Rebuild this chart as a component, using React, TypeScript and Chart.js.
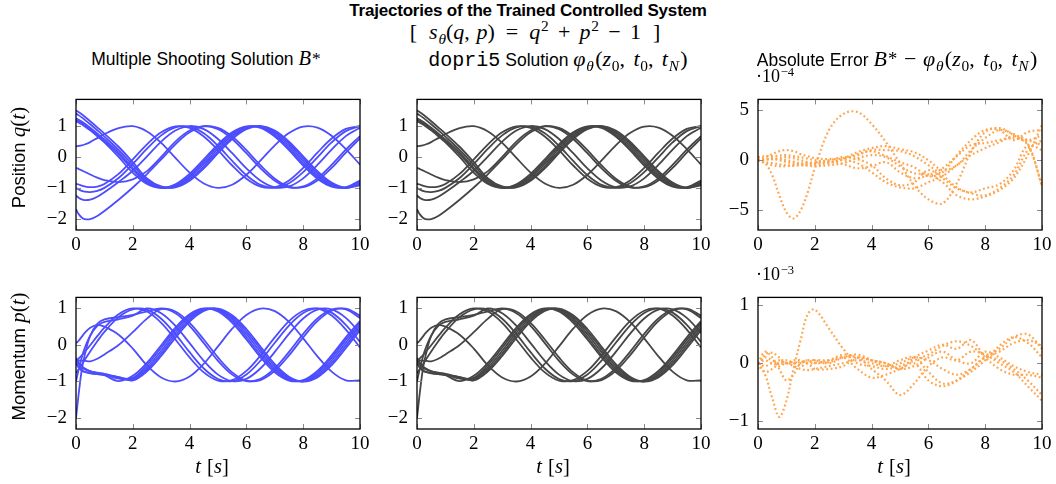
import React, { useEffect, useRef } from "react";
import { Chart, registerables } from "chart.js";

Chart.register(...registerables);

// ---------------------------------------------------------------------------
// Trajectories: time grid [s] shared by every trajectory
// ---------------------------------------------------------------------------
const TIME = [0, 0.05, 0.1, 0.2, 0.3, 0.5, 0.75, 1, 1.5, 2, 2.5, 3, 3.5, 4, 4.5, 5, 5.5, 6, 6.5, 7, 7.5, 8, 8.5, 9, 9.5, 10];

// Position q(t)
const Q_B1 = [1.50, 1.474, 1.444, 1.378, 1.306, 1.154, 0.957, 0.755, 0.330, -0.17, -0.691, -0.952, -0.982, -0.770, -0.370, 0.121, 0.582, 0.900, 0.999, 0.853, 0.498, 0.021, -0.461, -0.830, -0.996, -0.917];
const Q_B2 = [1.40, 1.374, 1.344, 1.279, 1.208, 1.058, 0.862, 0.659, 0.229, -0.26, -0.739, -0.972, -0.966, -0.723, -0.304, 0.190, 0.637, 0.929, 0.993, 0.814, 0.436, -0.049, -0.522, -0.867, -1.000, -0.887];
const Q_B3 = [1.25, 1.228, 1.203, 1.146, 1.083, 0.945, 0.760, 0.566, 0.149, -0.36, -0.791, -0.988, -0.942, -0.666, -0.227, 0.267, 0.697, 0.955, 0.980, 0.765, 0.362, -0.129, -0.589, -0.904, -0.998, -0.848];
const Q_B4 = [1.20, 1.178, 1.153, 1.096, 1.033, 0.895, 0.709, 0.513, 0.083, -0.41, -0.837, -0.997, -0.912, -0.605, -0.149, 0.343, 0.752, 0.976, 0.961, 0.711, 0.286, -0.208, -0.651, -0.935, -0.991, -0.803];
const Q_B5 = [1.15, 1.131, 1.108, 1.055, 0.994, 0.858, 0.670, 0.468, 0.00, -0.51, -0.873, -1.000, -0.882, -0.547, -0.079, 0.409, 0.796, 0.989, 0.939, 0.660, 0.219, -0.276, -0.703, -0.958, -0.978, -0.759];
const Q_A = [0.35, 0.353, 0.358, 0.375, 0.402, 0.481, 0.609, 0.740, 0.935, 0.995, 0.825, 0.454, -0.029, -0.505, -0.857, -0.999, -0.897, -0.575, -0.112, 0.377, 0.776, 0.983, 0.950, 0.685, 0.251, -0.244];
const Q_C1 = [-1.69, -1.781, -1.855, -1.955, -2.005, -2.010, -1.906, -1.746, -1.381, -0.986, -0.551, -0.079, 0.409, 0.796, 0.989, 0.939, 0.660, 0.219, -0.276, -0.703, -0.958, -0.978, -0.759, -0.354, 0.138, 0.595];
const Q_C2 = [-1.24, -1.286, -1.322, -1.372, -1.395, -1.380, -1.284, -1.140, -0.807, -0.445, 0.021, 0.498, 0.853, 0.999, 0.900, 0.582, 0.121, -0.370, -0.770, -0.982, -0.952, -0.691, -0.259, 0.235, 0.673, 0.945];
const Q_C3 = [-1.00, -1.026, -1.052, -1.094, -1.123, -1.136, -1.096, -0.999, -0.679, -0.227, 0.267, 0.697, 0.955, 0.980, 0.765, 0.362, -0.129, -0.589, -0.904, -0.998, -0.848, -0.490, -0.012, 0.469, 0.835, 0.997];
const Q_C4 = [-0.87, -0.88, -0.89, -0.925, -0.95, -0.975, -0.955, -0.875, -0.547, -0.079, 0.409, 0.796, 0.989, 0.939, 0.660, 0.219, -0.276, -0.703, -0.958, -0.978, -0.759, -0.354, 0.138, 0.595, 0.908, 0.998];
const Q_C5 = [-0.35, -0.370, -0.391, -0.434, -0.477, -0.565, -0.668, -0.748, -0.813, -0.726, -0.458, 0.0, 0.498, 0.853, 0.999, 0.900, 0.582, 0.121, -0.370, -0.770, -0.982, -0.952, -0.691, -0.259, 0.235, 0.673];

// Momentum p(t)
const P_B1 = [-0.50, -0.56, -0.62, -0.70, -0.74, -0.78, -0.80, -0.82, -0.88, -0.97, -0.723, -0.303, 0.190, 0.638, 0.929, 0.993, 0.813, 0.435, -0.050, -0.523, -0.868, -1.000, -0.887, -0.557, -0.091, 0.398];
const P_B2 = [-0.50, -0.56, -0.62, -0.69, -0.73, -0.77, -0.80, -0.82, -0.90, -0.96, -0.672, -0.236, 0.258, 0.690, 0.953, 0.982, 0.771, 0.370, -0.120, -0.581, -0.900, -0.999, -0.853, -0.498, -0.021, 0.461];
const P_B3 = [-0.40, -0.47, -0.53, -0.61, -0.66, -0.72, -0.76, -0.79, -0.88, -0.93, -0.612, -0.158, 0.335, 0.746, 0.974, 0.964, 0.717, 0.295, -0.199, -0.645, -0.932, -0.992, -0.808, -0.427, 0.058, 0.530];
const P_B4 = [-0.40, -0.47, -0.53, -0.61, -0.66, -0.72, -0.77, -0.80, -0.92, -0.90, -0.546, -0.078, 0.410, 0.797, 0.989, 0.939, 0.659, 0.218, -0.277, -0.704, -0.958, -0.978, -0.759, -0.353, 0.138, 0.596];
const P_B5 = [-0.35, -0.42, -0.49, -0.58, -0.64, -0.72, -0.78, -0.83, -0.99, -0.846, -0.487, -0.008, 0.472, 0.837, 0.997, 0.913, 0.605, 0.149, -0.343, -0.751, -0.976, -0.961, -0.711, -0.287, 0.207, 0.651];
const P_A = [0.05, 0.08, 0.12, 0.22, 0.32, 0.47, 0.55, 0.50, 0.28, -0.100, -0.564, -0.891, -1.000, -0.863, -0.515, -0.041, 0.443, 0.818, 0.994, 0.926, 0.631, 0.181, -0.312, -0.729, -0.968, -0.970];
const P_C1 = [-2.0, -1.65, -1.3, -0.7, -0.3, 0.25, 0.58, 0.70, 0.76, 0.82, 0.92, 0.997, 0.913, 0.605, 0.149, -0.343, -0.751, -0.976, -0.961, -0.711, -0.287, 0.207, 0.651, 0.935, 0.990, 0.803];
const P_C2 = [-1.0, -0.82, -0.65, -0.35, -0.10, 0.25, 0.52, 0.63, 0.70, 0.80, 1.000, 0.867, 0.523, 0.050, -0.435, -0.813, -0.993, -0.929, -0.638, -0.190, 0.304, 0.724, 0.966, 0.972, 0.740, 0.327];
const P_C3 = [-0.77, -0.715, -0.657, -0.539, -0.42, -0.18, 0.10, 0.355, 0.76, 0.974, 0.964, 0.717, 0.295, -0.199, -0.645, -0.932, -0.992, -0.808, -0.427, 0.058, 0.530, 0.872, 1.000, 0.883, 0.550, 0.083];
const P_C4 = [-0.45, -0.41, -0.37, -0.29, -0.20, -0.008, 0.239, 0.472, 0.837, 0.997, 0.913, 0.605, 0.149, -0.343, -0.751, -0.976, -0.961, -0.711, -0.287, 0.207, 0.651, 0.935, 0.990, 0.803, 0.420, -0.067];
const P_C5 = [-0.40, -0.41, -0.42, -0.43, -0.43, -0.45, -0.38, -0.26, 0.0, 0.35, 0.72, 0.98, 0.867, 0.523, 0.050, -0.435, -0.813, -0.993, -0.929, -0.638, -0.190, 0.304, 0.724, 0.966, 0.972, 0.740];

const Q_SERIES = [Q_B1, Q_B2, Q_B3, Q_B4, Q_B5, Q_A, Q_C1, Q_C2, Q_C3, Q_C4, Q_C5];
const P_SERIES = [P_B1, P_B2, P_B3, P_B4, P_B5, P_A, P_C1, P_C2, P_C3, P_C4, P_C5];

// ---------------------------------------------------------------------------
// Absolute error B* - phi: time grid [s]
// ---------------------------------------------------------------------------
const ERR_TIME = [0, 0.25, 0.5, 0.75, 1, 1.25, 1.5, 1.75, 2, 2.5, 3, 3.5, 4, 4.5, 5, 5.5, 6, 6.5, 7, 7.5, 8, 8.5, 9, 9.5, 10];

// Position error, in units of 1e-4
const EQ_1 = [0, -0.3, -1.5, -3.5, -5.2, -5.8, -5.0, -3.2, -0.8, 3.0, 4.6, 4.8, 3.6, 1.8, -0.3, -2.5, -3.9, -4.3, -2.3, 0.8, 2.8, 3.2, 2.5, 1.5, -2.5];
const EQ_2 = [0, 0.3, 0.6, 0.9, 1.0, 0.9, 0.6, 0.4, 0.2, 0.1, 0.2, 0.8, 1.2, 1.4, 1.1, 0.8, 0.0, -1.0, -0.5, 1.0, 2.2, 3.0, 2.6, 2.0, 2.5];
const EQ_3 = [0, -0.3, -0.5, -0.6, -0.6, -0.55, -0.5, -0.45, -0.4, -0.2, 0.0, -0.3, -1.2, -2.2, -2.7, -2.8, -2.2, -1.6, -0.5, 0.5, 1.2, 1.8, 2.4, 2.0, 1.5];
const EQ_4 = [0.3, 0.4, 0.4, 0.45, 0.5, 0.4, 0.3, 0.15, 0.0, -0.2, 0.1, 0.5, 1.0, 1.0, 0.9, 0.4, -0.5, -1.5, -2.7, -3.3, -3.5, -2.8, -1.5, 1.0, 2.0];
const EQ_5 = [0, -0.2, -0.3, -0.4, -0.5, -0.5, -0.5, -0.55, -0.6, -0.5, -0.3, 0.2, 0.5, 0.3, -0.6, -1.3, -1.4, -2.2, -3.5, -3.9, -3.6, -3.0, -1.8, 0.5, 3.5];
const EQ_6 = [0, 0.1, 0.1, 0.0, -0.2, -0.3, -0.4, -0.35, -0.3, -0.1, -0.4, -0.8, -0.6, -0.2, -1.2, -1.8, -1.5, -0.8, 0.4, 1.5, 1.7, 2.0, 2.2, 1.6, -2.6];
const EQ_7 = [0, 0.1, 0.2, 0.1, 0.0, -0.15, -0.3, -0.25, -0.2, 0.0, 0.3, 0.1, -0.5, -1.8, -2.5, -2.2, -1.0, -1.8, -2.8, -3.2, -2.8, -2.4, -1.0, 1.5, 1.0];
const EQ_8 = [0, 0.05, 0.1, 0.2, 0.3, 0.2, 0.0, -0.2, -0.4, -0.3, 0.1, 0.6, 0.9, 0.4, -0.2, -0.7, -1.6, -1.2, 0.5, 2.0, 3.0, 3.0, 2.0, 2.8, 3.0];

// Momentum error, in units of 1e-3
const EP_1 = [0, -0.2, -0.6, -0.93, -0.65, -0.1, 0.4, 0.85, 0.93, 0.6, 0.25, 0.0, -0.05, -0.1, -0.05, 0.05, 0.15, 0.3, 0.38, 0.3, 0.15, 0.25, 0.45, 0.5, 0.25];
const EP_2 = [0, 0.2, 0.1, -0.1, -0.3, -0.2, 0.0, 0.05, 0.0, 0.02, 0.1, 0.1, -0.1, -0.3, -0.55, -0.35, -0.05, 0.1, 0.05, 0.2, 0.15, 0.0, -0.15, -0.4, -0.65];
const EP_3 = [-0.1, 0.15, 0.18, 0.1, 0.0, 0.0, 0.02, 0.0, -0.1, -0.1, -0.05, 0.1, 0.05, 0.0, -0.1, 0.1, 0.22, 0.32, 0.25, 0.4, 0.1, -0.1, -0.2, -0.2, -0.25];
const EP_4 = [0, -0.15, -0.1, 0.0, 0.05, 0.0, -0.05, 0.0, 0.05, 0.05, 0.1, -0.1, -0.25, -0.2, -0.1, 0.0, -0.3, -0.4, -0.3, -0.1, 0.1, 0.2, 0.35, 0.4, 0.3];
const EP_5 = [0, 0.05, 0.0, 0.05, 0.0, 0.02, 0.0, 0.05, 0.05, 0.0, 0.1, 0.15, 0.05, -0.05, 0.0, 0.1, 0.05, -0.1, -0.2, -0.1, 0.1, 0.05, -0.1, -0.3, -0.55];
const EP_6 = [0, -0.05, 0.0, -0.05, 0.0, -0.05, -0.1, -0.12, -0.1, -0.05, 0.0, 0.05, 0.0, -0.05, 0.05, 0.1, -0.15, -0.35, -0.3, -0.15, 0.05, 0.3, 0.45, 0.35, 0.1];
const EP_7 = [0, 0.1, 0.05, 0.0, 0.0, 0.05, 0.05, 0.0, 0.0, 0.05, 0.15, 0.1, 0.05, 0.0, -0.1, -0.05, 0.1, 0.2, 0.05, 0.0, 0.2, 0.1, -0.05, -0.15, -0.2];

const EQ_SERIES = [EQ_1, EQ_2, EQ_3, EQ_4, EQ_5, EQ_6, EQ_7, EQ_8];
const EP_SERIES = [EP_1, EP_2, EP_3, EP_4, EP_5, EP_6, EP_7];

// Tick values
const T_TICKS = [0, 2, 4, 6, 8, 10];
const Q_TICKS = [-2, -1, 0, 1];
const P_TICKS = [-2, -1, 0, 1];
const EQ_TICKS = [-5, 0, 5];
const EP_TICKS = [-1, 0, 1];

// ---------------------------------------------------------------------------
const BLUE = "rgb(77,77,255)";
const DARK = "rgb(70,70,70)";
const ORANGE = "rgb(255,165,77)";

const SANS = "'Liberation Sans', Arial, sans-serif";
const SERIF = "'Liberation Serif', 'Times New Roman', serif";
const MONO = "'Liberation Mono', 'DejaVu Sans Mono', monospace";

const SANS_SIZE = 17.5;
const MATH_SIZE = 20.5;
const TITLE_MATH_SIZE = 22;

const Y_AXIS_W = 50;
const X_AXIS_H = 32;
const PAD_T = 10;
const PAD_R = 16;

const fmtTick = (v: number | string) => {
  const n = Number(v);
  return n < 0 ? "\u2212" + Math.abs(n) : String(n);
};

// Axis box with inward tick marks on all four sides
const framePlugin = {
  id: "frame",
  afterDraw(chart: any) {
    const { ctx, chartArea: a, scales } = chart;
    ctx.save();
    ctx.strokeStyle = "#8a8a8a";
    ctx.lineWidth = 1;
    const len = 5;
    ctx.beginPath();
    for (const tk of scales.x.ticks) {
      const x = Math.round(scales.x.getPixelForValue(tk.value)) + 0.5;
      ctx.moveTo(x, a.bottom);
      ctx.lineTo(x, a.bottom - len);
      ctx.moveTo(x, a.top);
      ctx.lineTo(x, a.top + len);
    }
    for (const tk of scales.y.ticks) {
      const y = Math.round(scales.y.getPixelForValue(tk.value)) + 0.5;
      ctx.moveTo(a.left, y);
      ctx.lineTo(a.left + len, y);
      ctx.moveTo(a.right, y);
      ctx.lineTo(a.right - len, y);
    }
    ctx.stroke();
    ctx.strokeStyle = "#000";
    ctx.lineWidth = 1.3;
    ctx.strokeRect(a.left, a.top, a.right - a.left, a.bottom - a.top);
    ctx.restore();
  },
};

type PanelProps = {
  left: number;
  top: number;
  width: number;
  height: number;
  times: number[];
  series: number[][];
  color: string;
  dotted?: boolean;
  yMin: number;
  yMax: number;
  yTicks: number[];
};

function Panel(props: PanelProps) {
  const ref = useRef<HTMLCanvasElement>(null);
  const cw = props.width + Y_AXIS_W + PAD_R;
  const ch = props.height + PAD_T + X_AXIS_H;

  useEffect(() => {
    const font = { family: SERIF, size: 19 };
    const chart = new Chart(ref.current as HTMLCanvasElement, {
      type: "line",
      data: {
        datasets: props.series.map((vals) => ({
          data: props.times.map((t, i) => ({ x: t, y: vals[i] })),
          borderColor: props.color,
          borderWidth: props.dotted ? 2.2 : 1.8,
          borderDash: props.dotted ? [1.8, 2.6] : [],
          pointRadius: 0,
          tension: 0.35,
          fill: false,
        })),
      },
      options: {
        responsive: false,
        animation: false,
        devicePixelRatio: 1,
        events: [],
        layout: { padding: { left: 0, top: PAD_T, right: PAD_R, bottom: 0 } },
        plugins: {
          legend: { display: false },
          tooltip: { enabled: false },
          title: { display: false },
        },
        scales: {
          x: {
            type: "linear",
            min: 0,
            max: 10,
            afterBuildTicks: (s: any) => {
              s.ticks = T_TICKS.map((v) => ({ value: v }));
            },
            afterFit: (s: any) => {
              s.height = X_AXIS_H;
            },
            grid: { display: false, drawTicks: false },
            border: { display: false },
            ticks: { font, color: "#000", padding: 4, maxRotation: 0, autoSkip: false, callback: fmtTick },
          },
          y: {
            type: "linear",
            min: props.yMin,
            max: props.yMax,
            afterBuildTicks: (s: any) => {
              s.ticks = props.yTicks.map((v) => ({ value: v }));
            },
            afterFit: (s: any) => {
              s.width = Y_AXIS_W;
            },
            grid: { display: false, drawTicks: false },
            border: { display: false },
            ticks: { font, color: "#000", padding: 9, autoSkip: false, callback: fmtTick },
          },
        },
      } as any,
      plugins: [framePlugin],
    });
    return () => chart.destroy();
  }, []);

  return (
    <canvas
      ref={ref}
      width={cw}
      height={ch}
      style={{ position: "absolute", left: props.left - Y_AXIS_W, top: props.top - PAD_T, width: cw, height: ch }}
    />
  );
}

type Kids = { children?: React.ReactNode };

// Math typesetting helpers: a serif run, italic symbols, scripts and spaced operators
const Mth = ({ children, size = MATH_SIZE }: Kids & { size?: number }) => (
  <span style={{ fontFamily: SERIF, fontSize: size, fontStyle: "normal" }}>{children}</span>
);
const I = ({ children }: Kids) => <span style={{ fontStyle: "italic" }}>{children}</span>;
const Sub = ({ children }: Kids) => (
  <span style={{ fontSize: "0.7em", position: "relative", top: "0.3em", marginLeft: "0.05em" }}>{children}</span>
);
const Sup = ({ children }: Kids) => (
  <span style={{ fontSize: "0.7em", position: "relative", top: "-0.5em", marginLeft: "0.05em" }}>{children}</span>
);
const Star = () => (
  <span style={{ fontSize: "0.85em", position: "relative", top: "-0.05em", marginLeft: "0.06em" }}>*</span>
);
const Op = ({ children, gap = 0.3 }: Kids & { gap?: number }) => (
  <span style={{ margin: `0 ${gap}em` }}>{children}</span>
);
const Comma = ({ gap = 0.38 }: { gap?: number }) => <span style={{ marginRight: `${gap}em` }}>,</span>;

const Phi = () => (
  <>
    <I>φ</I>
    <Sub>
      <I>θ</I>
    </Sub>
    <span style={{ marginLeft: "0.06em" }}>(</span>
    <I>z</I>
    <Sub>0</Sub>
    <Comma />
    <I>t</I>
    <Sub>0</Sub>
    <Comma />
    <I>t</I>
    <Sub>
      <I>N</I>
    </Sub>
    <span style={{ marginLeft: "0.06em" }}>)</span>
  </>
);

const COL_LEFT = [76, 417, 758];
const ROW_TOP = [89, 287];
const PANEL_W = 284;
const ROW_H = [141, 142];

export default function App() {
  const textBase: React.CSSProperties = { position: "absolute", whiteSpace: "nowrap", lineHeight: 1, color: "#000" };
  const centerAt = (cx: number, top: number, w = 400): React.CSSProperties => ({
    ...textBase,
    left: cx - w / 2,
    width: w,
    top,
    textAlign: "center",
  });

  return (
    <div style={{ position: "absolute", left: 0, top: 0, width: 1056, height: 484, background: "#fff", overflow: "hidden" }}>
      <Panel left={COL_LEFT[0]} top={ROW_TOP[0]} width={PANEL_W} height={ROW_H[0]} times={TIME} series={Q_SERIES} color={BLUE} yMin={-2.36} yMax={1.86} yTicks={Q_TICKS} />
      <Panel left={COL_LEFT[1]} top={ROW_TOP[0]} width={PANEL_W} height={ROW_H[0]} times={TIME} series={Q_SERIES} color={DARK} yMin={-2.36} yMax={1.86} yTicks={Q_TICKS} />
      <Panel left={COL_LEFT[2]} top={ROW_TOP[0]} width={PANEL_W} height={ROW_H[0]} times={ERR_TIME} series={EQ_SERIES} color={ORANGE} dotted yMin={-6.95} yMax={6.05} yTicks={EQ_TICKS} />
      <Panel left={COL_LEFT[0]} top={ROW_TOP[1]} width={PANEL_W} height={ROW_H[1]} times={TIME} series={P_SERIES} color={BLUE} yMin={-2.3} yMax={1.3} yTicks={P_TICKS} />
      <Panel left={COL_LEFT[1]} top={ROW_TOP[1]} width={PANEL_W} height={ROW_H[1]} times={TIME} series={P_SERIES} color={DARK} yMin={-2.3} yMax={1.3} yTicks={P_TICKS} />
      <Panel left={COL_LEFT[2]} top={ROW_TOP[1]} width={PANEL_W} height={ROW_H[1]} times={ERR_TIME} series={EP_SERIES} color={ORANGE} dotted yMin={-1.14} yMax={1.14} yTicks={EP_TICKS} />

      {/* Figure title */}
      <div style={{ ...centerAt(528, 2, 600), fontFamily: SANS, fontWeight: "bold", fontSize: 17, letterSpacing: -0.2 }}>
        Trajectories of the Trained Controlled System
      </div>
      <div style={{ ...centerAt(535, 21, 400) }}>
        <Mth size={22}>
          [<span style={{ marginLeft: "0.55em" }} />
          <I>s</I>
          <Sub>
            <I>θ</I>
          </Sub>
          (<I>q</I>
          <Comma gap={0.3} />
          <I>p</I>)<Op gap={0.5}>=</Op>
          <I>q</I>
          <Sup>2</Sup>
          <Op gap={0.42}>+</Op>
          <I>p</I>
          <Sup>2</Sup>
          <Op gap={0.42}>−</Op>1<span style={{ marginLeft: "0.55em" }} />]
        </Mth>
      </div>

      {/* Column titles */}
      <div style={{ ...centerAt(206, 48), fontFamily: SANS, fontSize: SANS_SIZE }}>
        Multiple Shooting Solution{" "}
        <Mth>
          <I>B</I>
          <Star />
        </Mth>
      </div>
      <div style={{ ...centerAt(COL_LEFT[1] + PANEL_W / 2 - 1, 48), fontFamily: SANS, fontSize: SANS_SIZE }}>
        <span style={{ fontFamily: MONO, fontSize: 20 }}>dopri5</span> Solution{" "}
        <Mth size={TITLE_MATH_SIZE}>
          <Phi />
        </Mth>
      </div>
      <div style={{ ...centerAt(COL_LEFT[2] + PANEL_W / 2 - 3, 48), fontFamily: SANS, fontSize: SANS_SIZE }}>
        Absolute Error{" "}
        <Mth size={TITLE_MATH_SIZE}>
          <I>B</I>
          <Star />
          <Op gap={0.3}>−</Op>
          <Phi />
        </Mth>
      </div>

      {/* Scale multipliers of the error panels */}
      <div style={{ ...textBase, left: 756, top: 67 }}>
        <Mth size={18}>
          ·10<Sup>−4</Sup>
        </Mth>
      </div>
      <div style={{ ...textBase, left: 756, top: 265 }}>
        <Mth size={18}>
          ·10<Sup>−3</Sup>
        </Mth>
      </div>

      {/* Row labels */}
      <div style={{ ...centerAt(18, 147, 200), fontFamily: SANS, fontSize: 18.5, transform: "rotate(-90deg)" }}>
        Position{" "}
        <Mth size={21}>
          <I>q</I>(<I>t</I>)
        </Mth>
      </div>
      <div style={{ ...centerAt(18, 346, 200), fontFamily: SANS, fontSize: 18.5, transform: "rotate(-90deg)" }}>
        Momentum{" "}
        <Mth size={21}>
          <I>p</I>(<I>t</I>)
        </Mth>
      </div>

      {/* Time axis labels */}
      {COL_LEFT.map((l) => (
        <div key={l} style={{ ...centerAt(l + PANEL_W / 2 - 6, 456, 100) }}>
          <Mth>
            <I>t</I>
            <span style={{ marginLeft: "0.3em" }} />[<I>s</I>]
          </Mth>
        </div>
      ))}
    </div>
  );
}
